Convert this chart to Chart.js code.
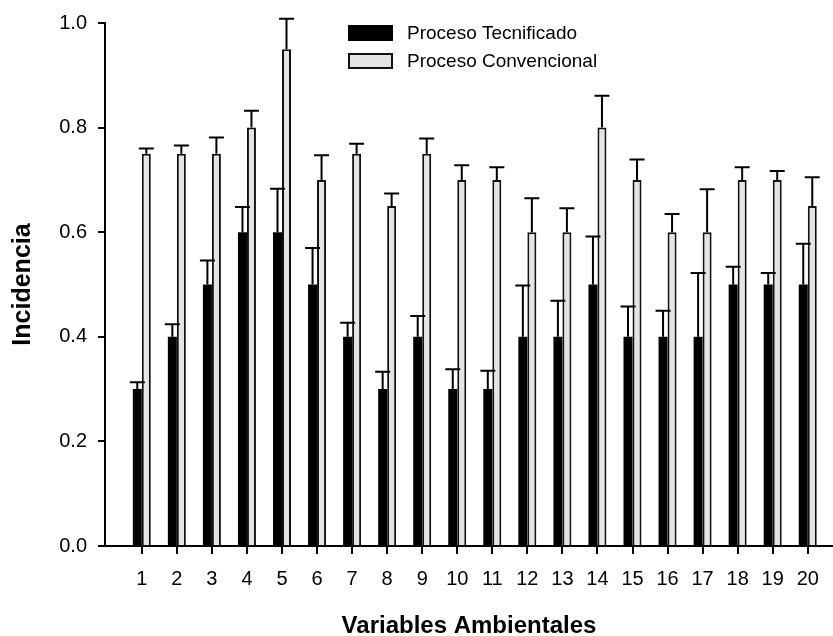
<!DOCTYPE html>
<html><head><meta charset="utf-8">
<script src="https://cdn.jsdelivr.net/npm/chart.js@4.4.1/dist/chart.umd.min.js"></script>
<style>html,body{margin:0;padding:0;background:#fff;}canvas{display:block;}</style>
</head><body>
<canvas id="c" width="833" height="636"></canvas>
<script>
const categories = ['1','2','3','4','5','6','7','8','9','10','11','12','13','14','15','16','17','18','19','20'];
const seriesLabels = ['Proceso Tecnificado', 'Proceso Convencional'];
const tecnificado    = [0.30,0.40,0.50,0.60,0.60,0.50,0.40,0.30,0.40,0.30,0.30,0.40,0.40,0.50,0.40,0.40,0.40,0.50,0.50,0.50];
const tecnificadoErr = [0.013,0.024,0.046,0.048,0.083,0.070,0.027,0.033,0.040,0.038,0.035,0.098,0.069,0.092,0.058,0.050,0.122,0.034,0.022,0.078];
const convencional    = [0.75,0.75,0.75,0.80,0.95,0.70,0.75,0.65,0.75,0.70,0.70,0.60,0.60,0.80,0.70,0.60,0.60,0.70,0.70,0.65];
const convencionalErr = [0.010,0.016,0.031,0.032,0.058,0.047,0.019,0.024,0.029,0.028,0.024,0.065,0.046,0.061,0.039,0.035,0.082,0.024,0.017,0.055];
const yTicks = [0.0,0.2,0.4,0.6,0.8,1.0];
const xTitle = 'Variables Ambientales';
const yTitle = 'Incidencia';

const FONT = "'Liberation Sans', Arial, Helvetica, sans-serif";

const errorBars = {
  id: 'errorBars',
  afterDatasetsDraw(chart, args, opts) {
    const ctx = chart.ctx, ys = chart.scales.y;
    chart.data.datasets.forEach((ds, di) => {
      const meta = chart.getDatasetMeta(di);
      meta.data.forEach((bar, i) => {
        const top = ys.getPixelForValue(ds.data[i].y + ds.errors[i]);
        ctx.save();
        ctx.strokeStyle = '#000';
        ctx.lineWidth = opts.lineWidth;
        ctx.beginPath();
        ctx.moveTo(bar.x, bar.y);
        ctx.lineTo(bar.x, top);
        ctx.moveTo(bar.x - opts.cap, top);
        ctx.lineTo(bar.x + opts.cap, top);
        ctx.stroke();
        ctx.restore();
      });
    });
  }
};

const boxLegend = {
  id: 'boxLegend',
  afterDraw(chart, args, o) {
    const ctx = chart.ctx;
    chart.data.datasets.forEach((ds, i) => {
      const y = o.top + i * o.rowGap;
      ctx.save();
      ctx.fillStyle = ds.backgroundColor;
      ctx.fillRect(o.left, y, o.boxW, o.boxH);
      if (ds.borderWidth) {
        ctx.strokeStyle = ds.borderColor;
        ctx.lineWidth = ds.borderWidth;
        ctx.strokeRect(o.left + 1, y + 1, o.boxW - 2, o.boxH - 2);
      }
      ctx.fillStyle = '#000';
      ctx.font = o.font;
      ctx.textBaseline = 'middle';
      ctx.textAlign = 'left';
      ctx.fillText(ds.label, o.left + o.boxW + o.gap, y + o.boxH / 2 + 1);
      ctx.restore();
    });
  }
};

const mk = (vals) => vals.map((v, i) => ({x: i + 1, y: v}));

new Chart(document.getElementById('c'), {
  type: 'bar',
  data: {
    datasets: [
      { label: seriesLabels[0], data: mk(tecnificado), errors: tecnificadoErr,
        backgroundColor: '#000000', borderWidth: 0 },
      { label: seriesLabels[1], data: mk(convencional), errors: convencionalErr,
        backgroundColor: '#e4e4e4', borderColor: '#111111', borderWidth: 2 }
    ]
  },
  options: {
    responsive: false,
    animation: false,
    events: [],
    layout: { padding: { left: 0, right: 0, top: 21, bottom: 0 } },
    datasets: { bar: { categoryPercentage: 0.5136, barPercentage: 1.0 } },
    plugins: {
      legend: { display: false },
      tooltip: { enabled: false },
      errorBars: { lineWidth: 2, cap: 7.5 },
      boxLegend: { left: 348, top: 25, rowGap: 28, boxW: 45, boxH: 16, gap: 14, font: "19px " + FONT }
    },
    scales: {
      x: {
        type: 'linear',
        min: -0.05, max: 20.72,
        offset: false,
        afterBuildTicks: (s) => { s.ticks = categories.map((c, i) => ({ value: i + 1 })); },
        afterFit: (s) => { s.height = 90; },
        ticks: {
          autoSkip: false, maxRotation: 0, color: '#000', padding: 13,
          font: { family: FONT, size: 20 },
          callback: (v) => categories[v - 1] ?? ''
        },
        grid: { drawOnChartArea: false, drawTicks: true, tickLength: 8, color: '#000', lineWidth: 2, offset: false },
        border: { display: true, color: '#000', width: 2 },
        title: { display: true, text: xTitle, color: '#000',
          font: { family: FONT, size: 24, weight: 'bold' }, padding: { top: 0, bottom: -5 } }
      },
      y: {
        min: 0, max: 1,
        afterBuildTicks: (s) => { s.ticks = yTicks.map(v => ({ value: v })); },
        afterFit: (s) => { s.width = 105; },
        ticks: { color: '#000', padding: 11, font: { family: FONT, size: 20 },
          callback: (v) => Number(v).toFixed(1) },
        grid: { drawOnChartArea: false, drawTicks: true, tickLength: 7, color: '#000', lineWidth: 2 },
        border: { display: true, color: '#000', width: 2 },
        title: { display: true, text: yTitle, color: '#000',
          font: { family: FONT, size: 25, weight: 'bold' }, padding: { top: 8, bottom: 0 } }
      }
    }
  },
  plugins: [errorBars, boxLegend]
});
</script>
</body></html>
